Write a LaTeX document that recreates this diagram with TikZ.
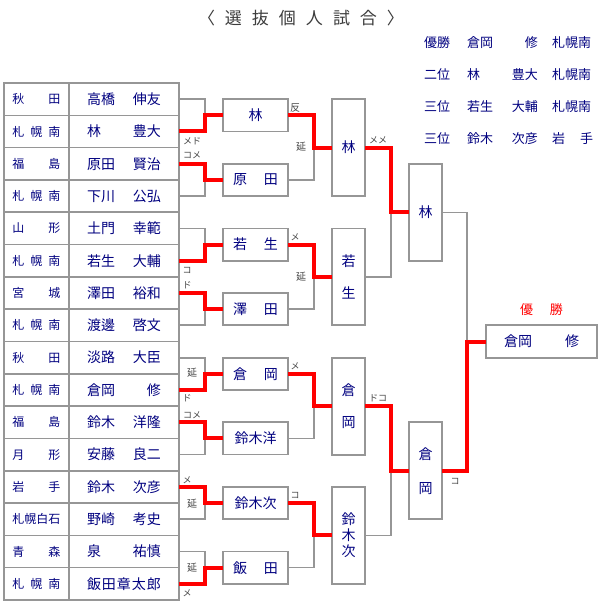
\documentclass[tikz,border=0pt]{standalone}
\usepackage{fontspec}
\setmainfont{Noto Sans CJK JP}
\usetikzlibrary{calc}
\definecolor{navy}{RGB}{0,0,128}
\definecolor{lgray}{RGB}{150,150,150}
\definecolor{lblc}{RGB}{70,70,70}
\definecolor{ttl}{RGB}{60,60,60}
\newcommand\spr[2]{\makebox[#1][s]{#2}}
\begin{document}
\begin{tikzpicture}[x=1pt,y=-1pt,
  pcell/.style={draw=lgray,line width=1.6pt,minimum width=65pt,minimum height=32.31pt,inner sep=0pt,outer sep=0pt,text=navy,font=\fontsize{12}{12}\selectfont},
  ncell/.style={draw=lgray,line width=1.6pt,minimum width=110pt,minimum height=32.31pt,inner sep=0pt,outer sep=0pt,text=navy,font=\fontsize{14}{14}\selectfont},
  rbox/.style={draw=lgray,line width=1.8pt,inner sep=0pt,outer sep=0pt,text=navy,font=\fontsize{14}{14}\selectfont,align=center},
  win/.style={draw=red,line width=4pt},
  lose/.style={draw=lgray,line width=1.5pt},
  lbl/.style={text=lblc,font=\fontsize{9}{9}\selectfont,inner sep=0pt},
  lblk/.style={text=lblc,font=\fontsize{10}{10}\selectfont,inner sep=0pt},
  res/.style={text=navy,font=\fontsize{13}{13}\selectfont,inner sep=0pt}]
\useasboundingbox (0,0) rectangle (600,610);
\fill[white] (0,0) rectangle (600,610);
% title
\node[text=ttl,font=\fontsize{17}{17}\selectfont,inner sep=0pt] (title) at (301,18) {\spr{206pt}{〈\hfill 選\hfill 抜\hfill 個\hfill 人\hfill 試\hfill 合\hfill 〉}};
% results
\node[res,anchor=west] (r1a) at (424,43) {優勝};
\node[res,anchor=west] (r1b) at (467,43) {倉岡};
\node[res,anchor=east] (r1c) at (538,43) {修};
\node[res,anchor=west] (r1d) at (552,43) {札幌南};
\node[res,anchor=west] (r2a) at (424,75) {二位};
\node[res,anchor=west] (r2b) at (467,75) {林};
\node[res,anchor=east] (r2c) at (538,75) {豊大};
\node[res,anchor=west] (r2d) at (552,75) {札幌南};
\node[res,anchor=west] (r3a) at (424,107) {三位};
\node[res,anchor=west] (r3b) at (467,107) {若生};
\node[res,anchor=east] (r3c) at (538,107) {大輔};
\node[res,anchor=west] (r3d) at (552,107) {札幌南};
\node[res,anchor=west] (r4a) at (424,139) {三位};
\node[res,anchor=west] (r4b) at (467,139) {鈴木};
\node[res,anchor=east] (r4c) at (538,139) {次彦};
\node[res,anchor=west] (r4d) at (552,139) {\spr{41pt}{岩\hfill 手}};
% table
\foreach \i/\p/\n in {
 0/{秋\hfill 田}/{高橋\hfill 伸友},
 1/{札\hfill 幌\hfill 南}/{林\hfill 豊大},
 2/{福\hfill 島}/{原田\hfill 賢治},
 3/{札\hfill 幌\hfill 南}/{下川\hfill 公弘},
 4/{山\hfill 形}/{土門\hfill 幸範},
 5/{札\hfill 幌\hfill 南}/{若生\hfill 大輔},
 6/{宮\hfill 城}/{澤田\hfill 裕和},
 7/{札\hfill 幌\hfill 南}/{渡邊\hfill 啓文},
 8/{秋\hfill 田}/{淡路\hfill 大臣},
 9/{札\hfill 幌\hfill 南}/{倉岡\hfill 修},
 10/{福\hfill 島}/{鈴木\hfill 洋隆},
 11/{月\hfill 形}/{安藤\hfill 良二},
 12/{岩\hfill 手}/{鈴木\hfill 次彦},
 13/{札\hfill 幌\hfill 白\hfill 石}/{野崎\hfill 考史},
 14/{青\hfill 森}/{泉\hfill 祐慎},
 15/{札\hfill 幌\hfill 南}/{飯\hfill 田\hfill 章\hfill 太\hfill 郎}}{
 \node[pcell] (p\i) at (36.5,{83+32.3125*(\i+0.5)}) {\spr{48pt}{\p}};
 \node[ncell] (n\i) at (124,{83+32.3125*(\i+0.5)}) {\spr{74pt}{\n}};
}
% round 1 boxes
\foreach \k in {0,...,7}{
 \node[rbox,minimum width=26pt,minimum height=32.31pt] (a\k) at (192,{83+32.3125*(2*\k+1)}) {};
}
% round 2 boxes
\foreach \k/\t in {0/{林},1/{\spr{45pt}{原\hfill 田}},2/{\spr{45pt}{若\hfill 生}},3/{\spr{45pt}{澤\hfill 田}},4/{\spr{45pt}{倉\hfill 岡}},5/{鈴木洋},6/{鈴木次},7/{\spr{45pt}{飯\hfill 田}}}{
 \node[rbox,minimum width=65pt,minimum height=32.31pt] (b\k) at (255.5,{83+32.3125*(2*\k+1)}) {\t};
}
% round 3 boxes
\node[rbox,minimum width=33pt,minimum height=96.94pt] (c0) at (348.5,{83+32.3125*2}) {林};
\node[rbox,minimum width=33pt,minimum height=96.94pt,font=\fontsize{14}{32}\selectfont] (c1) at (348.5,{83+32.3125*6}) {若\\生};
\node[rbox,minimum width=33pt,minimum height=96.94pt,font=\fontsize{14}{32}\selectfont] (c2) at (348.5,{83+32.3125*10}) {倉\\岡};
\node[rbox,minimum width=33pt,minimum height=96.94pt,font=\fontsize{14}{16}\selectfont] (c3) at (348.5,{83+32.3125*14}) {鈴\\木\\次};
% semis
\node[rbox,minimum width=33pt,minimum height=96.94pt] (d0) at (425.5,{83+32.3125*4}) {林};
\node[rbox,minimum width=33pt,minimum height=96.94pt,font=\fontsize{14}{34}\selectfont] (d1) at (425.5,{83+32.3125*12}) {倉\\岡};
% final
\node[rbox,minimum width=111pt,minimum height=32.31pt] (f) at (541.5,341.5) {\spr{75pt}{倉岡\hfill 修}};
\node[text=red,font=\fontsize{13}{13}\selectfont,inner sep=0pt] (champ) at (541.5,310) {\spr{43pt}{優\hfill 勝}};
% losers' lines
\draw[lose] (b1.east) -- ++(26,0) |- (c0.west);
\draw[lose] (b3.east) -- ++(26,0) |- (c1.west);
\draw[lose] (b5.east) -- ++(26,0) |- (c2.west);
\draw[lose] (b7.east) -- ++(26,0) |- (c3.west);
\draw[lose] (c1.east) -- ++(26,0) |- (d0.west);
\draw[lose] (c3.east) -- ++(26,0) |- (d1.west);
\draw[lose] (d0.east) -- ++(25,0) |- (f.west);
% winners' lines
\draw[win] (n1.east) -| (a0.east) -- (b0.west);
\draw[win] (n2.east) -| (a1.east) -- (b1.west);
\draw[win] (n5.east) -| (a2.east) -- (b2.west);
\draw[win] (n6.east) -| (a3.east) -- (b3.west);
\draw[win] (n9.east) -| (a4.east) -- (b4.west);
\draw[win] (n10.east) -| (a5.east) -- (b5.west);
\draw[win] (n12.east) -| (a6.east) -- (b6.west);
\draw[win] (n15.east) -| (a7.east) -- (b7.west);
\draw[win] (b0.east) -- ++(26,0) |- (c0.west);
\draw[win] (b2.east) -- ++(26,0) |- (c1.west);
\draw[win] (b4.east) -- ++(26,0) |- (c2.west);
\draw[win] (b6.east) -- ++(26,0) |- (c3.west);
\draw[win] (c0.east) -- ++(26,0) |- (d0.west);
\draw[win] (c2.east) -- ++(26,0) |- (d1.west);
\draw[win] (d1.east) -- ++(25,0) |- (f.west);
% labels
\node[lbl] (l1) at (192,141) {メド};
\node[lbl] (l2) at (192,155) {コメ};
\node[lbl] (l3) at (187,270) {コ};
\node[lbl] (l4) at (187,285) {ド};
\node[lblk] (l5) at (192,373) {延};
\node[lbl] (l6) at (187,398) {ド};
\node[lbl] (l7) at (192,415) {コメ};
\node[lbl] (l8) at (187,480) {メ};
\node[lblk] (l9) at (192,504) {延};
\node[lblk] (l10) at (192,568) {延};
\node[lbl] (l11) at (187,593) {メ};
\node[lblk] (l12) at (295,108) {反};
\node[lblk] (l13) at (301,147) {延};
\node[lbl] (l14) at (295,237) {メ};
\node[lblk] (l15) at (301,277) {延};
\node[lbl] (l16) at (295,366) {メ};
\node[lbl] (l17) at (295,495) {コ};
\node[lbl] (l18) at (378,140) {メメ};
\node[lbl] (l19) at (378,398) {ドコ};
\node[lbl] (l20) at (455,481) {コ};
\end{tikzpicture}
\end{document}
